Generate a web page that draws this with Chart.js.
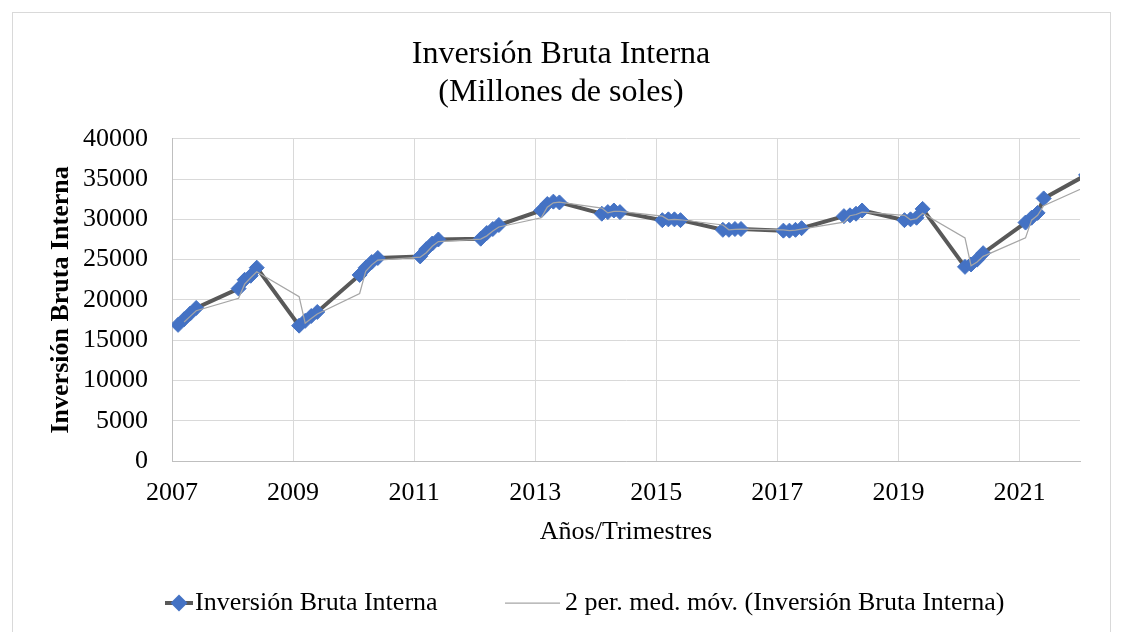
<!DOCTYPE html>
<html>
<head>
<meta charset="utf-8">
<script src="https://cdn.jsdelivr.net/npm/chart.js@4.4.1/dist/chart.umd.min.js"></script>
<style>
  html, body { margin: 0; padding: 0; background: #fff; }
  #wrap { position: relative; width: 1122px; height: 632px; overflow: hidden; }
  #wrap canvas { position: absolute; left: 0; top: 0; }
  #marco { position: absolute; left: 12px; top: 12px; width: 1097px; height: 700px; border: 1px solid #d9d9d9; pointer-events: none; }
</style>
</head>
<body>
<div id="wrap">
  <canvas id="grafico" width="1122" height="632"></canvas>
  <div id="marco"></div>
</div>
<script>
// trimestres codificados como año.trimestre (eje X lineal)
const periodos = [
  2007.1, 2007.2, 2007.3, 2007.4,
  2008.1, 2008.2, 2008.3, 2008.4,
  2009.1, 2009.2, 2009.3, 2009.4,
  2010.1, 2010.2, 2010.3, 2010.4,
  2011.1, 2011.2, 2011.3, 2011.4,
  2012.1, 2012.2, 2012.3, 2012.4,
  2013.1, 2013.2, 2013.3, 2013.4,
  2014.1, 2014.2, 2014.3, 2014.4,
  2015.1, 2015.2, 2015.3, 2015.4,
  2016.1, 2016.2, 2016.3, 2016.4,
  2017.1, 2017.2, 2017.3, 2017.4,
  2018.1, 2018.2, 2018.3, 2018.4,
  2019.1, 2019.2, 2019.3, 2019.4,
  2020.1, 2020.2, 2020.3, 2020.4,
  2021.1, 2021.2, 2021.3, 2021.4,
  2022.1
];

// Millones de soles
const inversion = [
  16900, 17600, 18300, 19000,
  21400, 22500, 23000, 24000,
  16800, 17400, 18000, 18500,
  23100, 24000, 24700, 25200,
  25400, 26300, 27000, 27500,
  27600, 28300, 28800, 29300,
  31100, 31900, 32200, 32100,
  30700, 30900, 31100, 30900,
  29900, 30000, 30000, 29900,
  28700, 28700, 28800, 28800,
  28600, 28600, 28700, 28900,
  30400, 30500, 30700, 31100,
  29900, 30000, 30200, 31300,
  24100, 24400, 25000, 25800,
  29600, 30200, 30800, 32600,
  35500
];

const etiquetasX = [2007, 2009, 2011, 2013, 2015, 2017, 2019, 2021];
const etiquetasY = [0, 5000, 10000, 15000, 20000, 25000, 30000, 35000, 40000];

const titulo = ['Inversión Bruta Interna', '(Millones de soles)'];
const serieNombre = 'Inversión Bruta Interna';
const mediaNombre = '2 per. med. móv. (Inversión Bruta Interna)';

// linea de tendencia de Excel: media movil de 2 periodos
const mediaMovil = inversion.map((v, i) => (i === 0 ? null : (v + inversion[i - 1]) / 2));

const puntos = periodos.map((x, i) => ({ x, y: inversion[i] }));
const puntosMedia = periodos.map((x, i) => ({ x, y: mediaMovil[i] }));

const serif = '"Liberation Serif", "Times New Roman", serif';
Chart.defaults.font.family = serif;
Chart.defaults.color = '#000';

function rombo(ctx, x, y, r) {
  ctx.beginPath();
  ctx.moveTo(x - r, y);
  ctx.lineTo(x, y - r);
  ctx.lineTo(x + r, y);
  ctx.lineTo(x, y + r);
  ctx.closePath();
  ctx.fill();
}

// leyenda dibujada a mano (Excel pone el rombo sobre la linea)
const leyenda = {
  id: 'leyenda',
  afterDraw(chart) {
    const { ctx } = chart;
    const [serie, media] = chart.data.datasets;
    const y = 603;
    ctx.save();
    ctx.lineCap = 'butt';
    ctx.strokeStyle = serie.borderColor;
    ctx.lineWidth = serie.borderWidth;
    ctx.beginPath(); ctx.moveTo(165, y); ctx.lineTo(193, y); ctx.stroke();
    ctx.fillStyle = serie.pointBackgroundColor;
    rombo(ctx, 179, y, 8.5);
    ctx.strokeStyle = media.borderColor;
    ctx.lineWidth = media.borderWidth;
    ctx.beginPath(); ctx.moveTo(505, y); ctx.lineTo(560, y); ctx.stroke();
    ctx.fillStyle = '#000';
    ctx.font = '26px ' + serif;
    ctx.textBaseline = 'middle';
    ctx.fillText(serie.label, 195, y);
    ctx.fillText(media.label, 565, y);
    ctx.restore();
  }
};

new Chart(document.getElementById('grafico'), {
  type: 'line',
  data: {
    datasets: [
      {
        label: serieNombre,
        data: puntos,
        borderColor: '#595959',
        borderWidth: 4,
        pointStyle: 'rectRot',
        pointRadius: 7.5,
        pointBackgroundColor: '#4472C4',
        pointBorderColor: '#4472C4',
        pointBorderWidth: 1,
        tension: 0,
        order: 1
      },
      {
        label: mediaNombre,
        data: puntosMedia,
        borderColor: '#a6a6a6',
        borderWidth: 1.25,
        pointRadius: 0,
        tension: 0,
        order: 0
      }
    ]
  },
  options: {
    responsive: false,
    animation: false,
    events: [],
    layout: { padding: { top: 0, left: 42, right: 42, bottom: 81 } },
    plugins: {
      legend: { display: false },
      tooltip: { enabled: false },
      title: {
        display: true,
        text: titulo,
        font: { size: 32, weight: 'normal', lineHeight: 1.2 },
        color: '#000',
        padding: { top: 35, bottom: 27 }
      }
    },
    scales: {
      x: {
        type: 'linear',
        min: 2007,
        max: 2022,
        afterBuildTicks: (s) => { s.ticks = etiquetasX.map((v) => ({ value: v })); },
        afterFit: (s) => { s.height = 90; },
        ticks: { font: { size: 26 }, padding: 17, maxRotation: 0, callback: (v) => String(v) },
        grid: { color: '#d9d9d9', lineWidth: 1, drawTicks: false },
        border: { color: '#bfbfbf', width: 1 },
        title: { display: true, text: 'Años/Trimestres', font: { size: 26 }, padding: { top: 4, bottom: 3 } }
      },
      y: {
        min: 0,
        max: 40000,
        afterBuildTicks: (s) => { s.ticks = etiquetasY.map((v) => ({ value: v })); },
        afterFit: (s) => { s.width = 130; },
        ticks: { font: { size: 26 }, padding: 24, callback: (v) => String(v) },
        grid: { color: '#d9d9d9', lineWidth: 1, drawTicks: false },
        border: { color: '#bfbfbf', width: 1 },
        title: { display: true, text: 'Inversión Bruta Interna', font: { size: 26, weight: 'bold' }, padding: { top: 4, bottom: 4 } }
      }
    }
  },
  plugins: [leyenda]
});
</script>
</body>
</html>
